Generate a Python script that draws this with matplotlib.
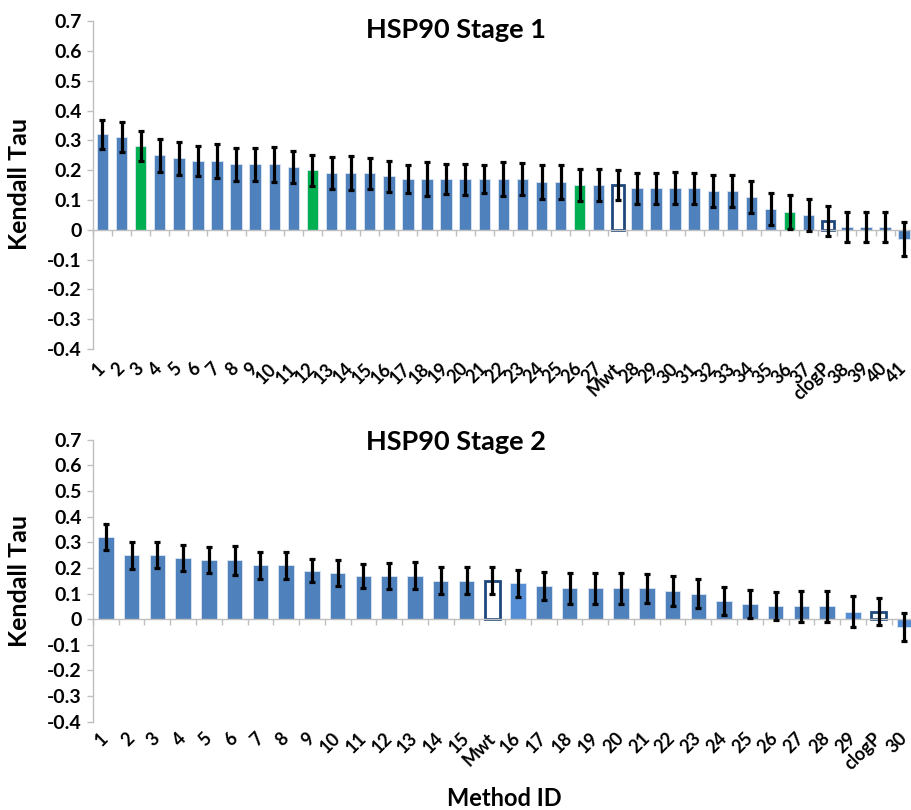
import matplotlib
matplotlib.use('Agg')
import matplotlib.pyplot as plt
import numpy as np

plt.rcParams['font.family'] = ['Lato', 'DejaVu Sans']
plt.rcParams['font.weight'] = 'bold'

# HSP90 stage 1
stage1_labels = [str(i) for i in range(1, 28)] + ['Mwt'] + [str(i) for i in range(28, 38)] + ['clogP'] + ['38', '39', '40', '41']
stage1_tau = [0.32, 0.31, 0.28, 0.25, 0.24, 0.23, 0.23, 0.22, 0.22, 0.22,
              0.21, 0.20, 0.19, 0.19, 0.19, 0.18, 0.17, 0.17, 0.17, 0.17,
              0.17, 0.17, 0.17, 0.16, 0.16, 0.15, 0.15, 0.15, 0.14, 0.14,
              0.14, 0.14, 0.13, 0.13, 0.11, 0.07, 0.06, 0.05, 0.03, 0.01,
              0.01, 0.01, -0.03]
stage1_err = [0.048, 0.05, 0.05, 0.055, 0.055, 0.05, 0.057, 0.056, 0.056, 0.058,
              0.054, 0.052, 0.054, 0.058, 0.052, 0.052, 0.047, 0.058, 0.05, 0.052,
              0.047, 0.057, 0.053, 0.056, 0.056, 0.055, 0.053, 0.05, 0.052, 0.052,
              0.055, 0.052, 0.053, 0.053, 0.053, 0.055, 0.056, 0.055, 0.051, 0.05,
              0.05, 0.05, 0.057]
stage1_kind = ['b'] * 43
for i in [2, 11, 25, 36]:
    stage1_kind[i] = 'g'
stage1_kind[27] = 'o'
stage1_kind[38] = 'o'

# HSP90 stage 2
stage2_labels = [str(i) for i in range(1, 16)] + ['Mwt'] + [str(i) for i in range(16, 30)] + ['clogP', '30']
stage2_tau = [0.32, 0.25, 0.25, 0.24, 0.23, 0.23, 0.21, 0.21, 0.19, 0.18,
              0.17, 0.17, 0.17, 0.15, 0.15, 0.15, 0.14, 0.13, 0.12, 0.12,
              0.12, 0.12, 0.11, 0.10, 0.07, 0.06, 0.05, 0.05, 0.05, 0.03,
              0.03, -0.03]
stage2_err = [0.05, 0.053, 0.05, 0.051, 0.05, 0.056, 0.052, 0.052, 0.046, 0.051,
              0.047, 0.051, 0.052, 0.052, 0.052, 0.052, 0.052, 0.054, 0.059, 0.059,
              0.059, 0.058, 0.058, 0.056, 0.055, 0.054, 0.055, 0.06, 0.06, 0.06,
              0.052, 0.056]
stage2_kind = ['b'] * 32
for i in [16, 29, 31]:
    stage2_kind[i] = 'l'
stage2_kind[15] = 'o'
stage2_kind[30] = 'o'

fills = {'b': '#4F81BD', 'g': '#00B050', 'l': '#558ED5', 'o': 'white'}
grey = '#BFBFBF'


def draw(ax, labels, tau, err, kind, pad_extra):
    n = len(labels)
    x = np.arange(n)
    for i in range(n):
        if kind[i] == 'o':
            ax.bar(x[i], tau[i], 0.6, color='white', edgecolor='#1F497D', linewidth=2, zorder=2)
        else:
            ax.bar(x[i], tau[i], 0.6, color=fills[kind[i]], edgecolor='#DCE6F2', linewidth=0.6, zorder=2)
    ax.errorbar(x, tau, yerr=err, fmt='none', ecolor='black', elinewidth=2.3,
                capsize=2.5, capthick=2.3, zorder=3)
    ax.set_xlim(-0.5, n - 0.5)
    ax.set_ylim(-0.4, 0.7)
    ax.set_yticks(np.arange(-0.4, 0.71, 0.1))
    ax.yaxis.set_major_formatter(plt.FuncFormatter(lambda v, p: '0' if abs(v) < 1e-9 else '%.1f' % v))
    for s in ['top', 'right']:
        ax.spines[s].set_visible(False)
    ax.spines['left'].set_color(grey)
    ax.spines['bottom'].set_color(grey)
    ax.spines['bottom'].set_position(('data', 0))
    ax.spines['left'].set_linewidth(1)
    ax.spines['bottom'].set_linewidth(1)
    ax.tick_params(axis='y', colors=grey, labelcolor='black', labelsize=14, length=4, width=1, pad=4)
    ax.set_xticks(x)
    ax.set_xticks(np.arange(n + 1) - 0.5, minor=True)
    # labels sit below the axes, not on the zero line
    pos = ax.get_position()
    h_pt = pos.height * 8.1 * 72
    pad = 0.4 / 1.1 * h_pt + pad_extra
    ax.set_xticklabels(labels, rotation=45, ha='right', va='center', rotation_mode='anchor')
    ax.tick_params(axis='x', which='major', length=0, pad=pad, labelsize=13)
    ax.tick_params(axis='x', which='minor', length=4, width=1, color=grey)
    for t in ax.get_yticklabels() + ax.get_xticklabels():
        t.set_fontweight('bold')


fig = plt.figure(figsize=(9.11, 8.1), dpi=100)
ax1 = fig.add_axes([0.102, 0.569, 0.901, 0.405])
ax2 = fig.add_axes([0.102, 0.109, 0.905, 0.348])
draw(ax1, stage1_labels, stage1_tau, stage1_err, stage1_kind, 12)
draw(ax2, stage2_labels, stage2_tau, stage2_err, stage2_kind, 10)

fig.text(0.5, 0.963, 'HSP90 Stage 1', ha='center', va='center', fontsize=19.5, fontweight='bold')
fig.text(0.5, 0.454, 'HSP90 Stage 2', ha='center', va='center', fontsize=19.5, fontweight='bold')
fig.text(0.021, 0.773, 'Kendall Tau', ha='center', va='center', rotation=90, fontsize=18, fontweight='bold')
fig.text(0.021, 0.283, 'Kendall Tau', ha='center', va='center', rotation=90, fontsize=18, fontweight='bold')
fig.text(0.554, 0.014, 'Method ID', ha='center', va='center', fontsize=17, fontweight='bold')

fig.savefig('out.png', dpi=100)
